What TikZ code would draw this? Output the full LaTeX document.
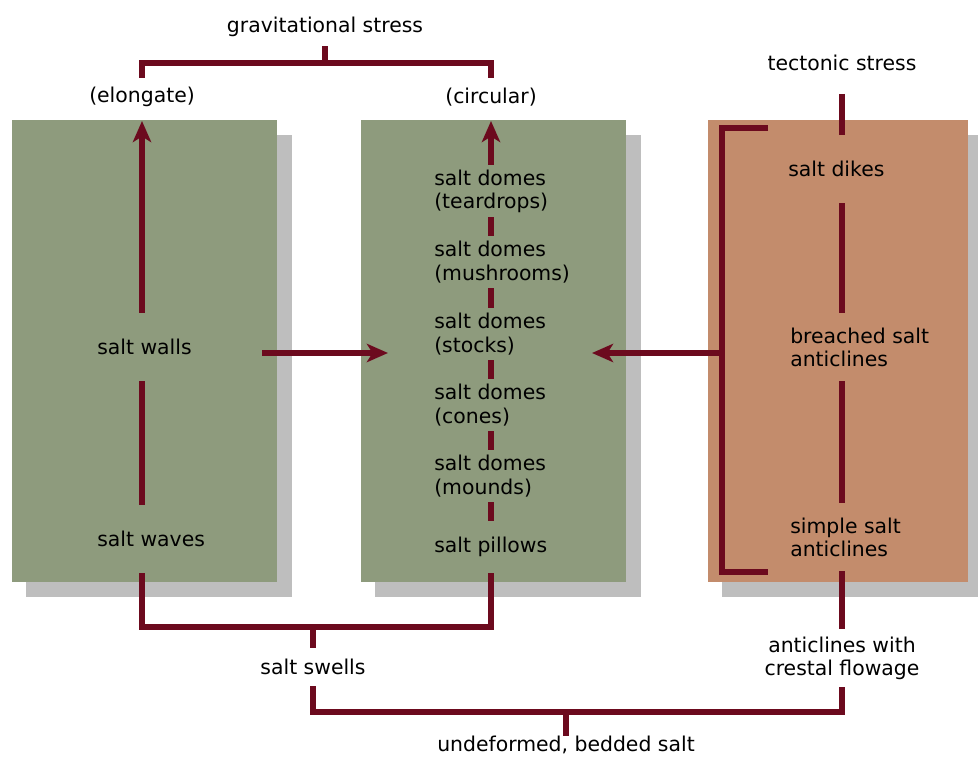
\documentclass[tikz,border=0pt]{standalone}
\usepackage{fontspec}
\setmainfont{DejaVu Sans}
\usetikzlibrary{arrows.meta}
\definecolor{salt}{RGB}{142,155,125}
\definecolor{fold}{RGB}{195,140,108}
\definecolor{boxgray}{RGB}{190,190,190}
\definecolor{link}{RGB}{108,10,30}
\begin{document}
\begin{tikzpicture}[x=0.025cm,y=-0.025cm,
  every node/.style={font=\fontsize{14.5}{16.5}\selectfont,inner sep=0pt},
  stage/.style={anchor=west,align=left,minimum height=1.7cm},
  dome/.style={anchor=west,align=left,minimum height=1.3cm},
  tag/.style={minimum height=0.95cm},
  bar/.style={draw=link,line width=4pt},
  arr/.style={bar,-{Stealth[length=15pt,width=13pt,inset=4pt]}}]
\useasboundingbox (0,0) rectangle (978,760);
\fill [boxgray] (26,135) rectangle (292,597);
\fill [salt] (12,120) rectangle (277,582);
\fill [boxgray] (375,135) rectangle (641,597);
\fill [salt] (361,120) rectangle (626,582);
\fill [boxgray] (722,135) rectangle (978,597);
\fill [fold] (708,120) rectangle (968,582);
\coordinate (lcol) at (142,0);
\coordinate (mcol) at (491,0);
\coordinate (rcol) at (842,0);
\coordinate (ltop) at (142,121);
\coordinate (mtop) at (491,121);
\coordinate (gm) at (325,63);
\coordinate (tstem) at (842,94);
\coordinate (wallout) at (262,353);
\coordinate (domein) at (388,353);
\coordinate (foldin) at (592,353);
\coordinate (bk) at (722,353);
\coordinate (bt) at (768,128);
\coordinate (bb) at (768,572);
\coordinate (sw) at (313,627);
\coordinate (ub) at (566,712);
\node [tag] (grav) at (325,27) {gravitational stress};
\node [tag] (elong) at (142,97) {(elongate)};
\node [tag] (circ) at (491,97) {(circular)};
\node (tect) at (842,63) {tectonic stress};
\node [stage] (walls) at (97,347) {salt walls};
\node [stage] (waves) at (97,539) {salt waves};
\node [dome] (tear) at (434,191) {salt domes\\(teardrops)};
\node [dome] (mush) at (434,262) {salt domes\\(mushrooms)};
\node [dome] (stock) at (434,334) {salt domes\\(stocks)};
\node [dome] (cone) at (434,405) {salt domes\\(cones)};
\node [dome] (mound) at (434,476) {salt domes\\(mounds)};
\node [dome] (pill) at (434,547) {salt pillows};
\node [stage] (dikes) at (788,169) {salt dikes};
\node [stage] (breach) at (790,347) {breached salt\\anticlines};
\node [stage] (simple) at (790,537) {simple salt\\anticlines};
\node [tag] (swells) at (313,667) {salt swells};
\node [align=center,minimum height=1.43cm] (crest) at (842,658) {anticlines with\\crestal flowage};
\node (bedded) at (566,745) {undeformed, bedded salt};
\draw [bar] (grav.south) -- (gm);
\draw [bar] (elong.north) |- (gm) -| (circ.north);
\draw [arr] (walls.north -| lcol) -- (ltop);
\draw [bar] (walls.south -| lcol) -- (waves.north -| lcol);
\draw [arr] (tear.north -| mcol) -- (mtop);
\foreach \a/\b in {tear/mush,mush/stock,stock/cone,cone/mound,mound/pill}
  \draw [bar] (\a.south -| mcol) -- (\b.north -| mcol);
\draw [bar] (tstem) -- (dikes.north -| rcol);
\draw [bar] (dikes.south -| rcol) -- (breach.north -| rcol);
\draw [bar] (breach.south -| rcol) -- (simple.north -| rcol);
\draw [bar] (bt) -| (bk) |- (bb);
\draw [arr] (bk) -- (foldin);
\draw [arr] (wallout) -- (domein);
\draw [bar] (waves.south -| lcol) |- (sw) -| (pill.south -| mcol);
\draw [bar] (sw) -- (swells.north);
\draw [bar] (simple.south -| rcol) -- (crest.north);
\draw [bar] (swells.south) |- (ub) -| (crest.south);
\draw [bar] (ub) -- (bedded.north);
\end{tikzpicture}
\end{document}
